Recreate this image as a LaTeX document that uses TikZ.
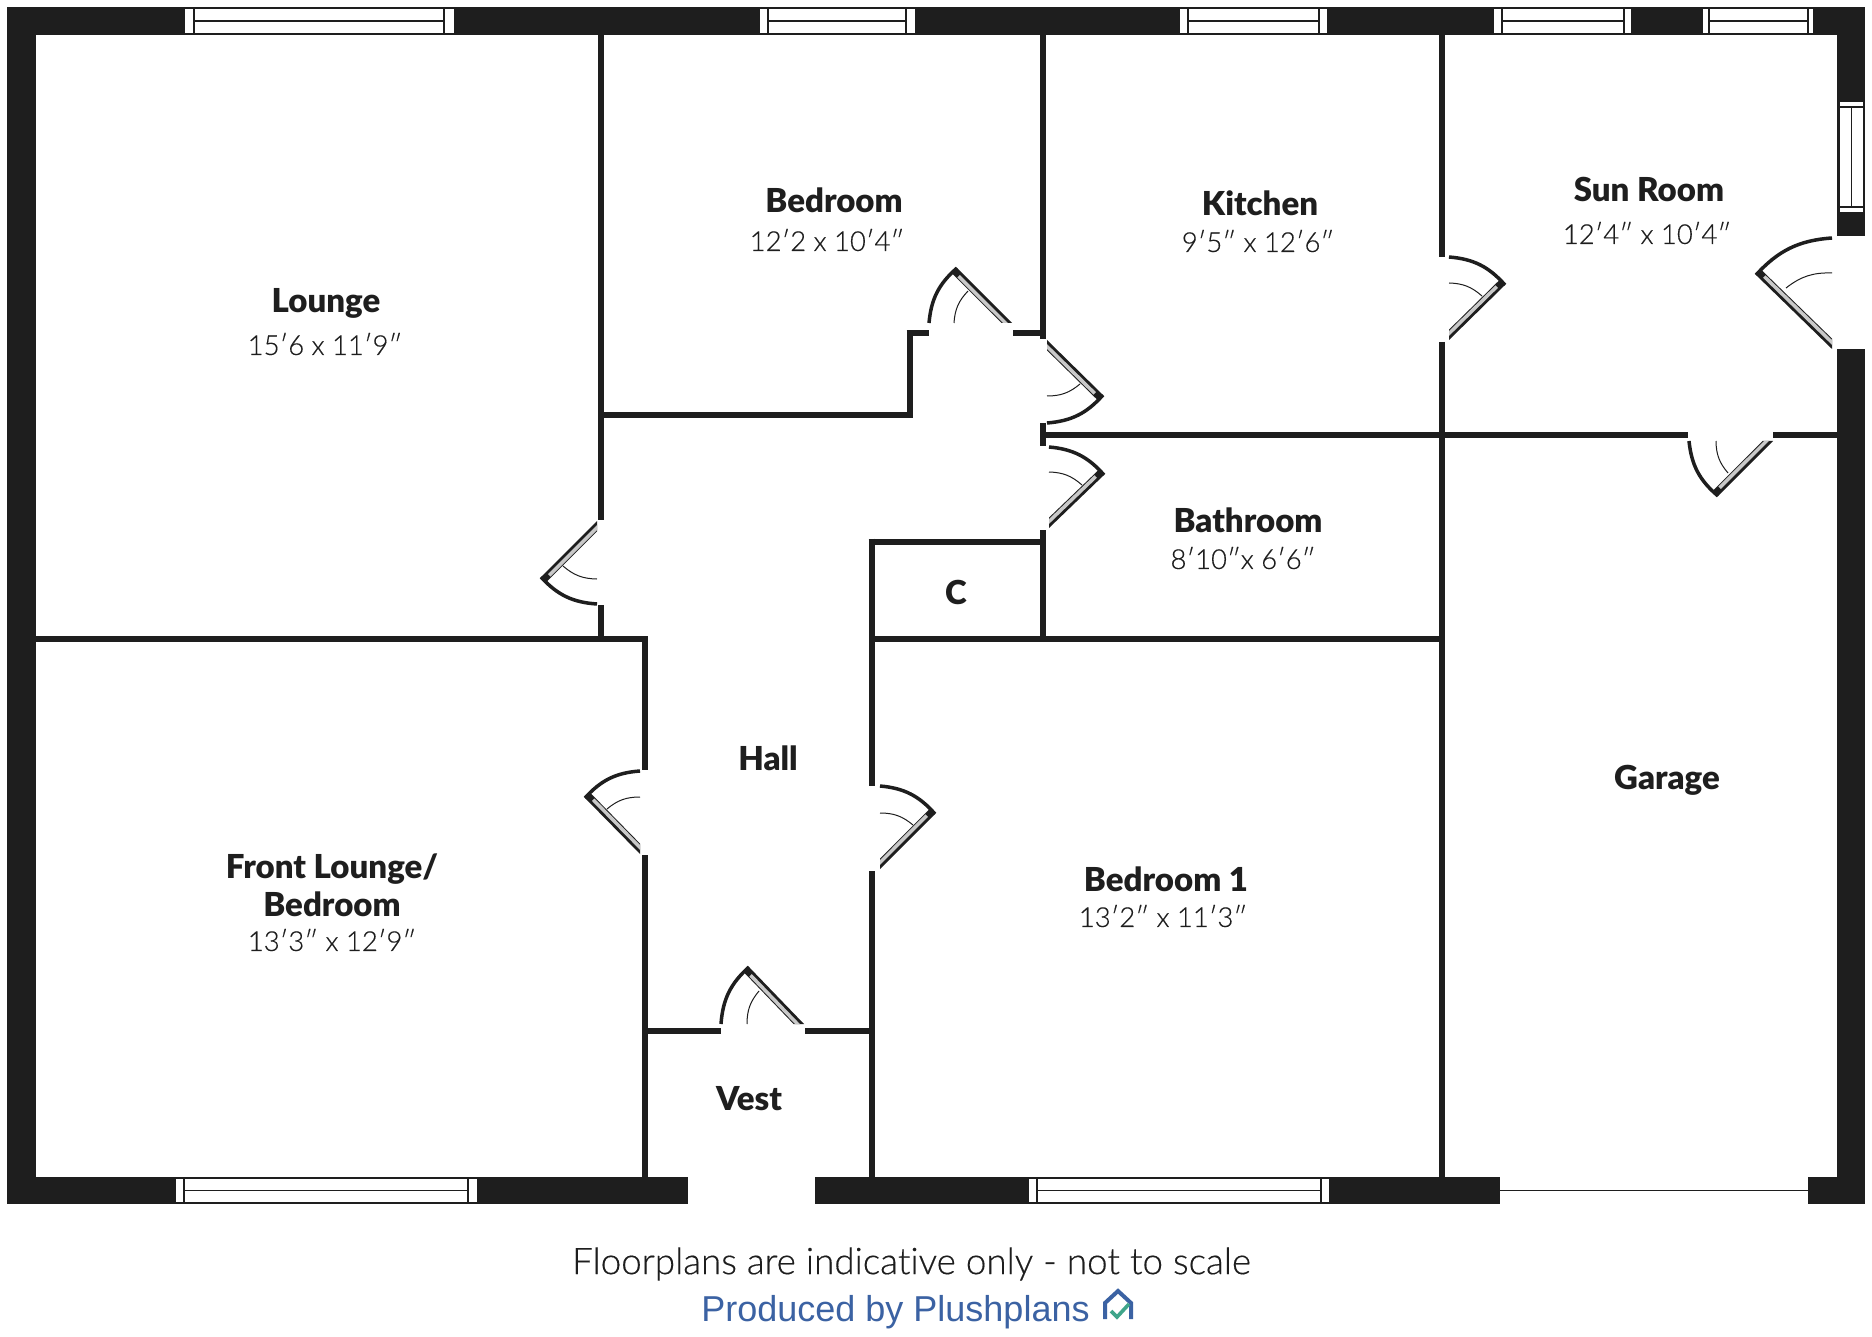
\documentclass[tikz,border=0pt]{standalone}
\usepackage{fontspec}
\setmainfont{Lato}
\newfontfamily\lightf[Ligatures=NoCommon,FakeBold=0.35]{Lato Light}
\newfontfamily\blackf{Lato Black}
\newfontfamily\bluef{Liberation Sans}
\usetikzlibrary{calc}
\definecolor{wall}{HTML}{1E1E1E}
\definecolor{leaf}{HTML}{C9C9C9}
\definecolor{plush}{HTML}{3B62A3}
\definecolor{check}{HTML}{3FA58A}
\tikzset{
  wallfill/.style={fill=wall,draw=none},
  iwall/.style={draw=wall,line width=6.8pt,line cap=butt},
  winpane/.style={fill=white,draw=wall,line width=1.6pt},
  winline/.style={draw=wall,line width=1.6pt},
  doorarc/.style={draw=wall,line width=3.5pt},
  doorthin/.style={draw=wall,line width=1pt},
  roomname/.style={font=\blackf\fontsize{33}{38}\selectfont,text=wall,inner sep=0pt,align=center},
  roomdim/.style={font=\lightf\fontsize{27.5}{32}\selectfont,text=wall,inner sep=0pt},
}
% door: bend side, rot sign, A (arc start), T (tip), B (hinge), C, D (thin arc)
\newcommand{\door}[7]{%
  \fill[wall] (#4) -- (#5) -- ($(#5)!10.4pt!(#3)$) -- ($(#4)!7.4pt!#2:(#5)$) -- cycle;
  \fill[leaf] ($(#4)!7pt!(#5)!2.9pt!#2:(#5)$) -- ($(#5)!4.1pt!(#3)$) -- ($(#5)!9pt!(#3)$) -- ($(#4)!7pt!(#5)!6.4pt!#2:(#5)$) -- cycle;
  \draw[doorarc] (#3) to[bend #1=22] (#4);
  \draw[doorthin] (#6) to[bend #1=20] (#7);
}
% horizontal window x0,x1 (outer), a,b (inner), y0,y1
\newcommand{\hwin}[6]{%
  \fill[white] (#1,#5) rectangle (#2,#6);
  \draw[winpane] (#3,#5) rectangle (#4,#6);
  \draw[winline] (#1,#5) -- (#2,#5) (#1,#6) -- (#2,#6);
  \draw[winline] (#1,#5) -- (#1,#6) (#2,#5) -- (#2,#6);
  \draw[winline] (#3,{(#5+#6)/2}) -- (#4,{(#5+#6)/2});
}
\begin{document}
\begin{tikzpicture}[x=1pt,y=-1pt]
\useasboundingbox (0,0) rectangle (1872,1337);
\fill[white] (0,0) rectangle (1872,1337);
% outer walls
\fill[wallfill] (7,7) rectangle (1865,35.5);
\fill[wallfill] (7,7) rectangle (35.5,1204);
\fill[wallfill] (1837,7) rectangle (1865,236);
\fill[wallfill] (1837,349) rectangle (1865,1204);
\fill[wallfill] (7,1176.5) rectangle (688,1204);
\fill[wallfill] (815,1176.5) rectangle (1500,1204);
\fill[wallfill] (1808,1176.5) rectangle (1865,1204);
\draw[draw=wall,line width=1.4pt] (1500,1190.5) -- (1808,1190.5);
% interior walls
\draw[iwall] (601,35) -- (601,520);
\draw[iwall] (601,605) -- (601,639);
\draw[iwall] (35,639) -- (648.4,639);
\draw[iwall] (645,636) -- (645,770);
\draw[iwall] (645,855) -- (645,1177);
\draw[iwall] (872,538.6) -- (872,786);
\draw[iwall] (872,871) -- (872,1177);
\draw[iwall] (868.6,542) -- (1043,542);
\draw[iwall] (872,639) -- (1442,639);
\draw[iwall] (648,1031) -- (721,1031);
\draw[iwall] (805,1031) -- (872,1031);
\draw[iwall] (1043,35) -- (1043,339);
\draw[iwall] (1043,423) -- (1043,446);
\draw[iwall] (1043,530) -- (1043,642);
\draw[iwall] (1043,435) -- (1837,435) ;
\draw[iwall] (1442,35) -- (1442,257);
\draw[iwall] (1442,342) -- (1442,1177);
\draw[iwall] (601,415) -- (913.4,415);
\draw[iwall] (910,418) -- (910,329.6);
\draw[iwall] (906.6,333) -- (929,333);
\draw[iwall] (1013,333) -- (1043,333);
% gap in cross wall for garage door
\fill[white] (1688,430) rectangle (1773,440);
% windows
\hwin{184}{455}{194}{444}{8}{34}
\hwin{759}{916}{768}{906}{8}{34}
\hwin{1179}{1328}{1188}{1319}{8}{34}
\hwin{1493}{1632}{1502}{1624}{8}{34}
\hwin{1702}{1814}{1709}{1808}{8}{34}
\hwin{175}{478}{184}{468}{1178}{1203}
\hwin{1028}{1330}{1037}{1321}{1178}{1203}
% right window (vertical)
\fill[white] (1839,101) rectangle (1864,213);
\draw[winpane] (1839,107) rectangle (1864,207);
\draw[winline] (1839,101) rectangle (1864,213);
\draw[winline] (1851.5,107) -- (1851.5,207);
% doors
\door{left}{-90}{1449,257}{1505,285}{1449,340}{1449,283}{1482,296}
\door{right}{90}{1832,238}{1756,275}{1832,349}{1832,273}{1786,288}
\door{right}{90}{1689,441}{1718,496}{1773,441}{1716,441}{1728,473}
\door{left}{-90}{929,323}{957,268}{1012,323}{954,323}{968,291}
\door{right}{90}{1047,423}{1103,395}{1047,340}{1047,396}{1080,384}
\door{left}{-90}{1049,447}{1104,475}{1049,528}{1049,472}{1082,485}
\door{left}{-90}{597,604}{541,577}{597,521}{597,579}{563,566}
\door{right}{90}{640,771}{585,798}{640,854}{640,797}{607,809}
\door{left}{-90}{880,786}{935,814}{880,869}{880,813}{913,825}
\door{left}{-90}{721,1024}{749,967}{804,1024}{747,1024}{759,991}
% room labels
\node[roomname] (n1) at (326,303) {Lounge};
\node[roomdim]  (d1) at (325,344) {15′6 x 11′9″};
\node[roomname] (n2) at (834,200) {Bedroom};
\node[roomdim]  (d2) at (827,240) {12′2 x 10′4″};
\node[roomname] (n3) at (1260,203) {Kitchen};
\node[roomdim]  (d3) at (1258,241) {9′5″ x 12′6″};
\node[roomname] (n4) at (1649,189) {Sun Room};
\node[roomdim]  (d4) at (1647,233) {12′4″ x 10′4″};
\node[roomname] (n5) at (1248,520) {Bathroom};
\node[roomdim]  (d5) at (1243,558) {8′10″x 6′6″};
\node[roomname] (n6) at (956,592) {C};
\node[roomname] (n7) at (768,758) {Hall};
\node[roomname] (n8) at (1667,780.5) {Garage};
\node[roomname] (n9) at (332,885) {Front Lounge/\\Bedroom};
\node[roomdim]  (d9) at (332,940) {13′3″ x 12′9″};
\node[roomname] (n10) at (1166,879) {Bedroom 1};
\node[roomdim]  (d10) at (1163,916) {13′2″ x 11′3″};
\node[roomname] (n11) at (749,1099) {Vest};
% footer
\node[font=\lightf\fontsize{36.8}{40}\selectfont,text=wall,inner sep=0pt] (foot) at (911.5,1264) {Floorplans are indicative only - not to scale};
\node[font=\bluef\fontsize{36}{40}\selectfont,text=plush,inner sep=0pt] (prod) at (895.5,1312.5) {Produced by Plushplans};
% logo
\draw[plush,line width=4pt,line join=miter] (1105,1319) -- (1105,1303) -- (1118,1291) -- (1131,1303) -- (1131,1319);
\draw[check,line width=3.6pt] (1111,1311) -- (1117,1317) -- (1129,1304);
\end{tikzpicture}
\end{document}
